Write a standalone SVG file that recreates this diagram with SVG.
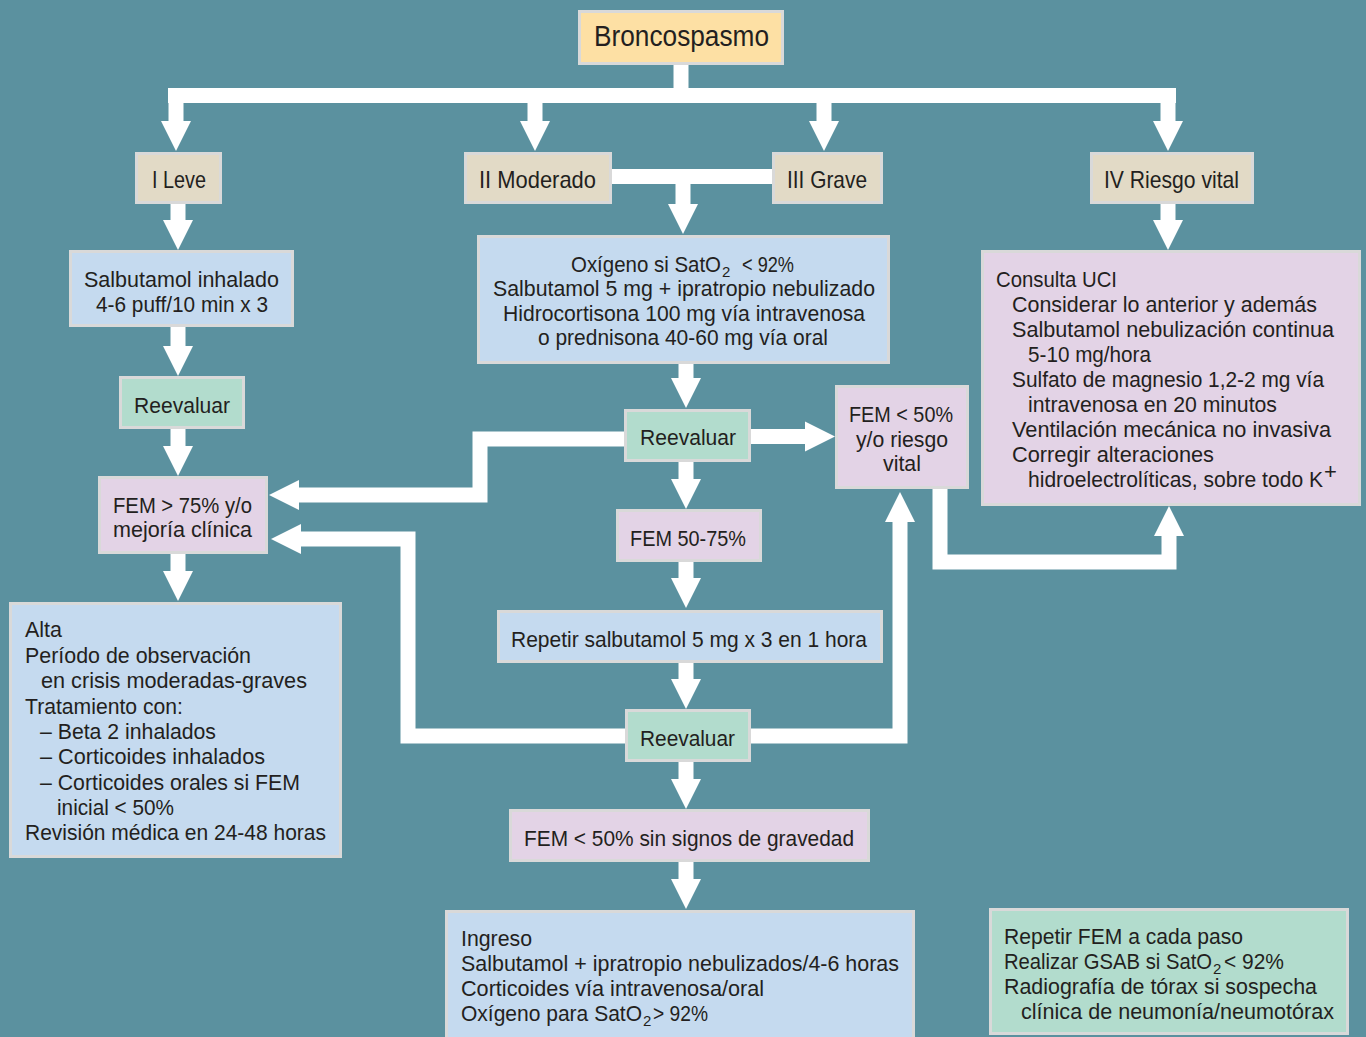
<svg xmlns="http://www.w3.org/2000/svg" width="1366" height="1037" viewBox="0 0 1366 1037">
<style>
.bg{fill:#5b919f}
.box{stroke:#d9d9d9;stroke-width:3}
.yel{fill:#fde0a4}
.bei{fill:#e2dac6}
.blu{fill:#c5daef}
.grn{fill:#b2dccd}
.lil{fill:#e3d3e6}
text{font-family:"Liberation Sans",Arial,sans-serif;fill:#231f20;font-size:22px}
.sev{font-size:24px}
.big{font-size:29px}
.sub{font-size:15px}
.conn{fill:none;stroke:#ffffff;stroke-width:15;stroke-linejoin:miter;marker-end:url(#ah)}
.line{fill:none;stroke:#ffffff;stroke-width:15;stroke-linejoin:miter}
</style>
<defs>
<marker id="ah" markerUnits="userSpaceOnUse" markerWidth="30" markerHeight="30" viewBox="0 -15 30 30" refX="0" refY="0" orient="auto" overflow="visible">
<path d="M0,-15 L30,0 L0,15 z" fill="#ffffff"/>
</marker>
</defs>
<rect class="bg" x="0" y="0" width="1366" height="1037"/>

<g id="connectors">
<path class="line" d="M681,65 V96"/>
<path class="line" d="M168,95.5 H1176"/>
<path class="conn" d="M176,96 V121"/>
<path class="conn" d="M535,96 V121"/>
<path class="conn" d="M824,96 V121"/>
<path class="conn" d="M1168,96 V121"/>
<path class="line" d="M612,176.5 H772"/>
<path class="conn" d="M683,176 V204"/>
<path class="conn" d="M178,204 V220"/>
<path class="conn" d="M178,327 V346"/>
<path class="conn" d="M178,429 V446"/>
<path class="conn" d="M178,554 V571"/>
<path class="conn" d="M1168,204 V220"/>
<path class="conn" d="M686,364 V378"/>
<path class="conn" d="M686,462 V479"/>
<path class="conn" d="M686,562 V578"/>
<path class="conn" d="M686,663 V679"/>
<path class="conn" d="M686,762 V779"/>
<path class="conn" d="M686,862 V879"/>
<path class="conn" d="M751,436.5 H805"/>
<path class="conn" d="M624,439 H480 V495 H299"/>
<path class="conn" d="M625,736 H408 V539 H301"/>
<path class="conn" d="M751,736 H900 V522"/>
<path class="conn" d="M940,489 V562 H1169 V536"/>
</g>

<g id="broncospasmo"><rect class="box yel" x="579.5" y="11.5" width="203" height="52"/><text class="big" x="594" y="46" textLength="175" lengthAdjust="spacingAndGlyphs">Broncospasmo</text></g>

<g id="leve"><rect class="box bei" x="136.5" y="153.5" width="84" height="49"/><text class="sev" x="152" y="188" textLength="54" lengthAdjust="spacingAndGlyphs">I Leve</text></g>
<g id="moderado"><rect class="box bei" x="465.5" y="153.5" width="145" height="49"/><text class="sev" x="479" y="188" textLength="117" lengthAdjust="spacingAndGlyphs">II Moderado</text></g>
<g id="grave"><rect class="box bei" x="773.5" y="153.5" width="108" height="49"/><text class="sev" x="787" y="188" textLength="80" lengthAdjust="spacingAndGlyphs">III Grave</text></g>
<g id="riesgo"><rect class="box bei" x="1091.5" y="153.5" width="161" height="49"/><text class="sev" x="1104" y="188" textLength="135" lengthAdjust="spacingAndGlyphs">IV Riesgo vital</text></g>

<g id="salbutamol-inhalado"><rect class="box blu" x="70.5" y="251.5" width="222" height="74"/>
<text x="84" y="287" textLength="195" lengthAdjust="spacingAndGlyphs">Salbutamol inhalado</text>
<text x="96" y="312" textLength="172" lengthAdjust="spacingAndGlyphs">4-6 puff/10 min x 3</text></g>

<g id="reevaluar-1"><rect class="box grn" x="120.5" y="377.5" width="123" height="50"/><text x="134" y="413" textLength="96" lengthAdjust="spacingAndGlyphs">Reevaluar</text></g>

<g id="fem-75"><rect class="box lil" x="99.5" y="477.5" width="167" height="75"/>
<text x="113" y="513" textLength="139" lengthAdjust="spacingAndGlyphs">FEM &gt; 75% y/o</text>
<text x="113" y="537" textLength="139" lengthAdjust="spacingAndGlyphs">mejoría clínica</text></g>

<g id="alta"><rect class="box blu" x="10.5" y="603.5" width="330" height="253"/>
<text x="25" y="637" textLength="37" lengthAdjust="spacingAndGlyphs">Alta</text>
<text x="25" y="663" textLength="226" lengthAdjust="spacingAndGlyphs">Período de observación</text>
<text x="41" y="688" textLength="266" lengthAdjust="spacingAndGlyphs">en crisis moderadas-graves</text>
<text x="25" y="714" textLength="158" lengthAdjust="spacingAndGlyphs">Tratamiento con:</text>
<text x="40" y="739" textLength="176" lengthAdjust="spacingAndGlyphs">– Beta 2 inhalados</text>
<text x="40" y="764" textLength="225" lengthAdjust="spacingAndGlyphs">– Corticoides inhalados</text>
<text x="40" y="790" textLength="260" lengthAdjust="spacingAndGlyphs">– Corticoides orales si FEM</text>
<text x="57" y="815" textLength="117" lengthAdjust="spacingAndGlyphs">inicial &lt; 50%</text>
<text x="25" y="840" textLength="301" lengthAdjust="spacingAndGlyphs">Revisión médica en 24-48 horas</text></g>

<g id="oxigeno"><rect class="box blu" x="478.5" y="236.5" width="410" height="126"/>
<text x="571" y="272" textLength="150" lengthAdjust="spacingAndGlyphs">Oxígeno si SatO</text>
<text class="sub" x="722" y="277">2</text>
<text x="742" y="272" textLength="52" lengthAdjust="spacingAndGlyphs">&lt; 92%</text>
<text x="493" y="296" textLength="382" lengthAdjust="spacingAndGlyphs">Salbutamol 5 mg + ipratropio nebulizado</text>
<text x="503" y="321" textLength="362" lengthAdjust="spacingAndGlyphs">Hidrocortisona 100 mg vía intravenosa</text>
<text x="538" y="345" textLength="290" lengthAdjust="spacingAndGlyphs">o prednisona 40-60 mg vía oral</text></g>

<g id="reevaluar-2"><rect class="box grn" x="625.5" y="410.5" width="124" height="50"/><text x="640" y="445" textLength="96" lengthAdjust="spacingAndGlyphs">Reevaluar</text></g>

<g id="fem-50-riesgo"><rect class="box lil" x="836.5" y="386.5" width="131" height="101"/>
<text x="849" y="422" textLength="104" lengthAdjust="spacingAndGlyphs">FEM &lt; 50%</text>
<text x="856" y="447" textLength="92" lengthAdjust="spacingAndGlyphs">y/o riesgo</text>
<text x="883" y="471" textLength="38" lengthAdjust="spacingAndGlyphs">vital</text></g>

<g id="fem-50-75"><rect class="box lil" x="617.5" y="510.5" width="143" height="50"/><text x="630" y="546" textLength="116" lengthAdjust="spacingAndGlyphs">FEM 50-75%</text></g>

<g id="repetir-salbutamol"><rect class="box blu" x="498.5" y="611.5" width="383" height="50"/><text x="511" y="647" textLength="356" lengthAdjust="spacingAndGlyphs">Repetir salbutamol 5 mg x 3 en 1 hora</text></g>

<g id="reevaluar-3"><rect class="box grn" x="626.5" y="710.5" width="123" height="50"/><text x="640" y="746" textLength="95" lengthAdjust="spacingAndGlyphs">Reevaluar</text></g>

<g id="fem-50-sin"><rect class="box lil" x="510.5" y="810.5" width="358" height="50"/><text x="524" y="846" textLength="330" lengthAdjust="spacingAndGlyphs">FEM &lt; 50% sin signos de gravedad</text></g>

<g id="ingreso"><rect class="box blu" x="446.5" y="911.5" width="467" height="140"/>
<text x="461" y="946" textLength="71" lengthAdjust="spacingAndGlyphs">Ingreso</text>
<text x="461" y="971" textLength="438" lengthAdjust="spacingAndGlyphs">Salbutamol + ipratropio nebulizados/4-6 horas</text>
<text x="461" y="996" textLength="303" lengthAdjust="spacingAndGlyphs">Corticoides vía intravenosa/oral</text>
<text x="461" y="1021" textLength="181" lengthAdjust="spacingAndGlyphs">Oxígeno para SatO</text>
<text class="sub" x="643" y="1026">2</text>
<text x="653" y="1021" textLength="55" lengthAdjust="spacingAndGlyphs">&gt; 92%</text></g>

<g id="consulta-uci"><rect class="box lil" x="982.5" y="251.5" width="377" height="253"/>
<text x="996" y="287" textLength="121" lengthAdjust="spacingAndGlyphs">Consulta UCI</text>
<text x="1012" y="312" textLength="305" lengthAdjust="spacingAndGlyphs">Considerar lo anterior y además</text>
<text x="1012" y="337" textLength="322" lengthAdjust="spacingAndGlyphs">Salbutamol nebulización continua</text>
<text x="1028" y="362" textLength="123" lengthAdjust="spacingAndGlyphs">5-10 mg/hora</text>
<text x="1012" y="387" textLength="312" lengthAdjust="spacingAndGlyphs">Sulfato de magnesio 1,2-2 mg vía</text>
<text x="1028" y="412" textLength="249" lengthAdjust="spacingAndGlyphs">intravenosa en 20 minutos</text>
<text x="1012" y="437" textLength="319" lengthAdjust="spacingAndGlyphs">Ventilación mecánica no invasiva</text>
<text x="1012" y="462" textLength="202" lengthAdjust="spacingAndGlyphs">Corregir alteraciones</text>
<text x="1028" y="487" textLength="295" lengthAdjust="spacingAndGlyphs">hidroelectrolíticas, sobre todo K</text>
<text x="1324" y="479" font-size="17">+</text></g>

<g id="repetir-fem"><rect class="box grn" x="990.5" y="909.5" width="357" height="124"/>
<text x="1004" y="944" textLength="239" lengthAdjust="spacingAndGlyphs">Repetir FEM a cada paso</text>
<text x="1004" y="969" textLength="208" lengthAdjust="spacingAndGlyphs">Realizar GSAB si SatO</text>
<text class="sub" x="1213" y="974">2</text>
<text x="1224" y="969" textLength="60" lengthAdjust="spacingAndGlyphs">&lt; 92%</text>
<text x="1004" y="994" textLength="313" lengthAdjust="spacingAndGlyphs">Radiografía de tórax si sospecha</text>
<text x="1021" y="1019" textLength="313" lengthAdjust="spacingAndGlyphs">clínica de neumonía/neumotórax</text></g>
</svg>
